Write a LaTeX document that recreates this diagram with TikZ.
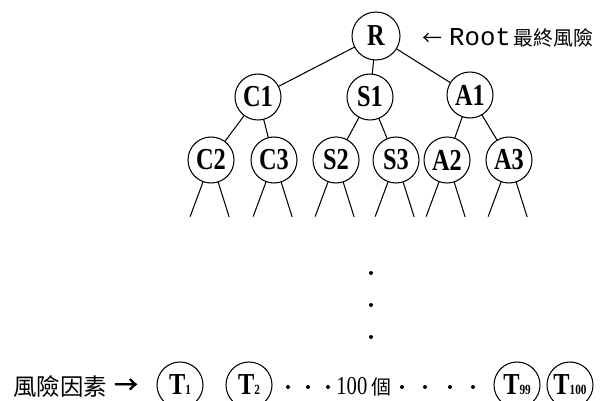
\documentclass[tikz,border=0pt]{standalone}
\usepackage{fontspec}
\setmainfont{Liberation Serif}
\newfontfamily\nodefont{Liberation Serif}[FakeStretch=0.8]
\newfontfamily\cjk{Noto Sans CJK TC}
\newfontfamily\cjkbold{Noto Sans CJK TC}[FakeBold=2.5]
\newfontfamily\rootfont{Liberation Mono}
\usetikzlibrary{positioning}

\tikzset{
  risk/.style={circle, draw, line width=0.9pt, minimum size=1.38cm, inner sep=0pt, outer sep=0pt,
    font=\nodefont\fontsize{26}{26}\selectfont\bfseries},
  link/.style={line width=0.9pt},
}
\newcommand{\tsub}[1]{T{\fontsize{12}{12}\selectfont #1}}

\begin{document}
\begin{tikzpicture}[x=0.03cm, y=-0.03cm]
  \useasboundingbox (0,0) rectangle (601,401);

  % root and its label
  \node[risk, minimum size=1.44cm] (R) at (376,36) {R};
  \node[anchor=west, font=\fontsize{17}{17}\selectfont] (rootlabel) at (418,38)
    {{\cjk ←}\hspace{6pt}{\rootfont\fontsize{22}{22}\selectfont Root}\hspace{2pt}{\cjk 最終風險}};

  % second level
  \node[risk] (C1) at (258,97) {C1};
  \node[risk] (S1) at (370,97) {S1};
  \node[risk] (A1) at (470,95) {A1};

  % third level
  \node[risk] (C2) at (211,160) {C2};
  \node[risk] (C3) at (274,160) {C3};
  \node[risk] (S2) at (336,160) {S2};
  \node[risk] (S3) at (396,160) {S3};
  \node[risk] (A2) at (447,160) {A2};
  \node[risk] (A3) at (509,160) {A3};

  % edges of the tree
  \foreach \p/\c in {R/C1, R/S1, R/A1, C1/C2, C1/C3, S1/S2, S1/S3, A1/A2, A1/A3}
    \draw[link] (\p) -- (\c);

  % branches going further down
  \foreach \n in {C2,C3,S2,S3,A2,A3} {
    \draw[link] (\n.250) -- ++(-13,35);
    \draw[link] (\n.288) -- ++(11,35);
  }

  % vertical dots
  \foreach \y in {273,305,337}
    \fill (371,\y) circle (2);

  % bottom row: risk factors
  \node[font=\cjk\fontsize{20}{20}\selectfont] (factorlabel) at (60,387) {風險因素};
  \node[font=\cjkbold\fontsize{20}{20}\selectfont] (factorarrow) at (126,386) {→};
  \node[risk] (T1) at (180,385) {\tsub{1}};
  \node[risk] (T2) at (249,385) {\tsub{2}};
  \node[font=\nodefont\fontsize{22}{22}\selectfont] (count) at (364,387) {100\,{\cjk\fontsize{17}{17}\selectfont 個}};
  \node[risk] (T99) at (517,385) {\tsub{99}};
  \node[risk] (T100) at (570,385) {\tsub{100}};
  \foreach \x in {288,308,328,402,425,450,473}
    \fill (\x,387) circle (2);
\end{tikzpicture}
\end{document}
